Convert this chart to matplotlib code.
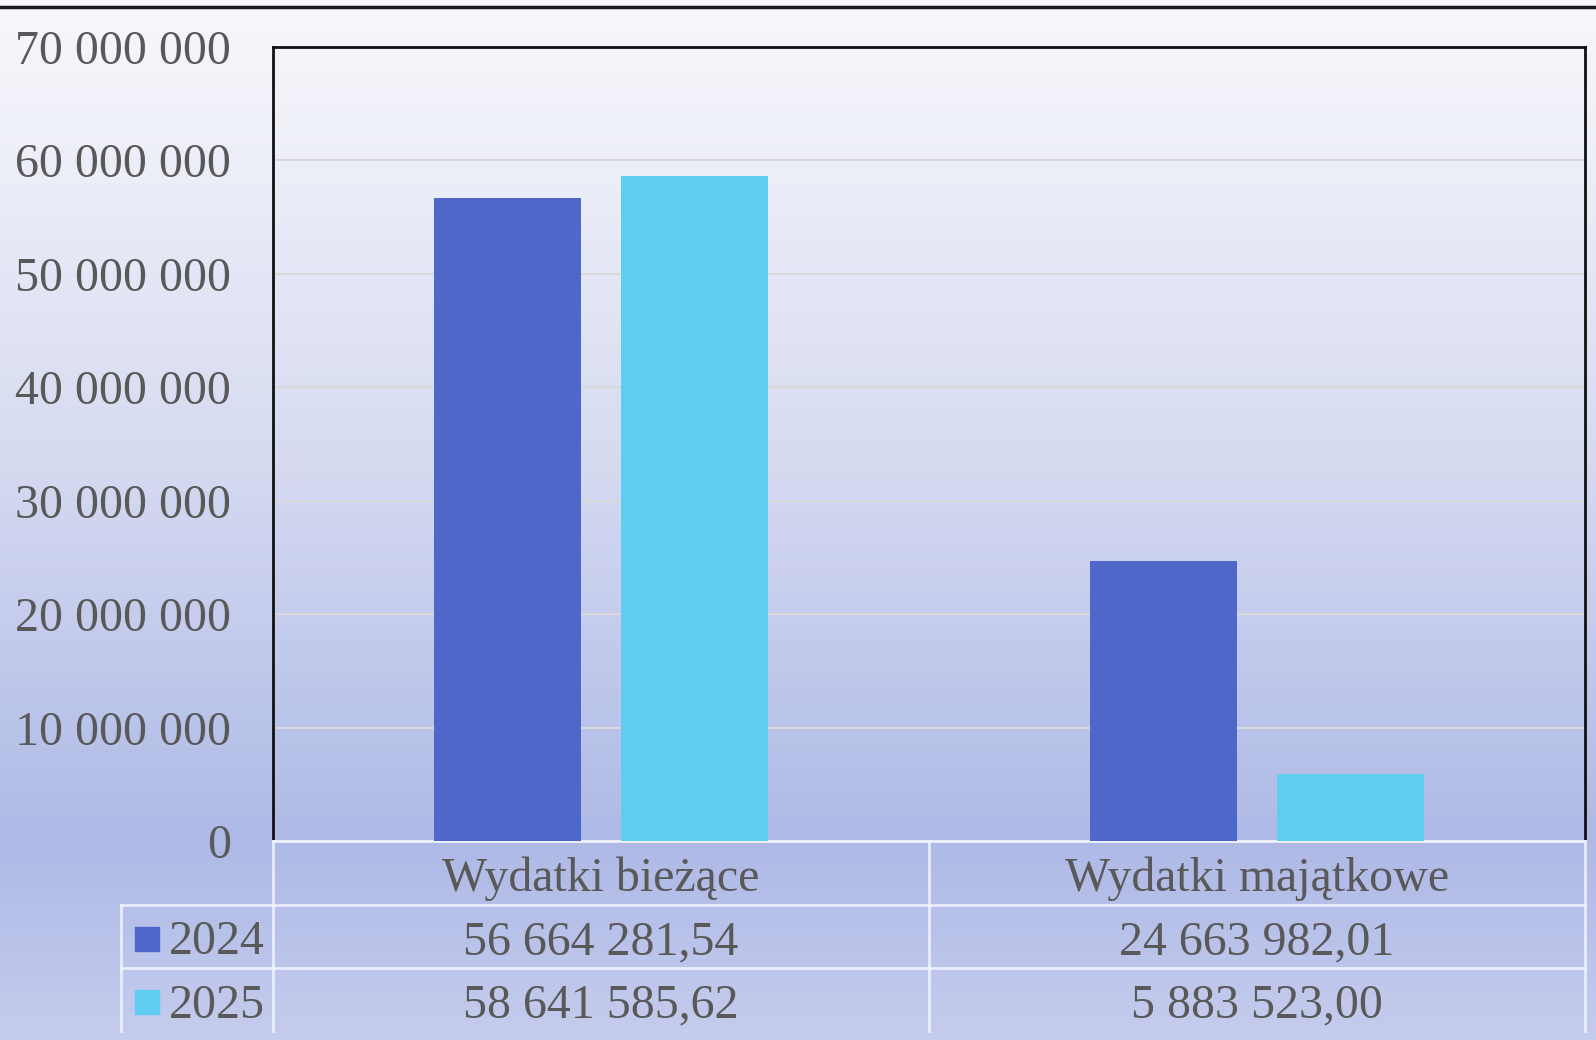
import numpy as np
import matplotlib
matplotlib.use('Agg')
import matplotlib.pyplot as plt
from matplotlib.colors import LinearSegmentedColormap
from matplotlib.lines import Line2D
from matplotlib.patches import Rectangle
import matplotlib.transforms as mtransforms

# dane
kategorie = ['Wydatki bieżące', 'Wydatki majątkowe']
lata = ['2024', '2025']
wartosci_2024 = [56664281.54, 24663982.01]
wartosci_2025 = [58641585.62, 5883523.00]
kolory = ['#4f67c8', '#5fcdf2']
yticks = [0, 10000000, 20000000, 30000000, 40000000, 50000000, 60000000, 70000000]

plt.rcParams['font.family'] = ['Liberation Serif', 'DejaVu Serif']
szary = '#595959'
W, H = 1596, 1040

def fmt_int(v):
    return '{:,.0f}'.format(v).replace(',', ' ')

def fmt_pl(v):
    return '{:,.2f}'.format(v).replace(',', ' ').replace('.', ',')

fig = plt.figure(figsize=(W / 100, H / 100), dpi=100)

# tlo - gradient
bg = fig.add_axes([0, 0, 1, 1], zorder=-10)
cmap = LinearSegmentedColormap.from_list('tlo', [
    (0.0, '#f7f8fc'), (0.1, '#f1f2f9'), (0.45, '#d5daf1'),
    (0.81, '#aeb9e6'), (1.0, '#c5cced')])
bg.imshow(np.linspace(0, 1, 256).reshape(-1, 1), aspect='auto', cmap=cmap,
          extent=[0, 1, 0, 1], origin='upper')
bg.set_axis_off()

L, R, T, B = 273, 1585, 47, 841
ax = fig.add_axes([L / W, 1 - B / H, (R - L) / W, (B - T) / H])
ax.patch.set_alpha(0)

x = np.arange(len(kategorie))
szer = 0.224
off = 0.142
ax.bar(x - off, wartosci_2024, szer, color=kolory[0], zorder=3)
ax.bar(x + off, wartosci_2025, szer, color=kolory[1], zorder=3)

ax.set_xlim(-0.5, len(kategorie) - 0.5)
ax.set_ylim(0, 70000000)
ax.set_yticks(yticks)
ax.set_yticklabels([fmt_int(v) for v in yticks], fontsize=34.5, color=szary)
ax.tick_params(axis='y', length=0, pad=30)
ax.set_xticks([])
ax.grid(axis='y', color='#d9d9d9', lw=1.5, zorder=0)
for s in ['left', 'top', 'right']:
    ax.spines[s].set_color('#111111')
    ax.spines[s].set_linewidth(2)
ax.spines['bottom'].set_color('#eef0fa')
ax.spines['bottom'].set_linewidth(2)

# tabela danych pod wykresem
tr = mtransforms.blended_transform_factory(ax.transData, fig.transFigure)
wiersze = [841, 905, 968, 1031]
dy = 6  # przesuniecie tekstu w dol
def fy(py):
    return 1 - py / H

linia = dict(color='#f2f4fc', lw=2, alpha=0.85)
for py in wiersze[1:3]:
    fig.add_artist(Line2D([121 / W, R / W], [fy(py)] * 2, **linia))
fig.add_artist(Line2D([L / W, L / W], [fy(841), fy(1031)], **linia))
fig.add_artist(Line2D([121 / W, 121 / W], [fy(905), fy(1031)], **linia))
xf = ax.transData.transform((0.5, 0))[0] / W
fig.add_artist(Line2D([xf, xf], [fy(841), fy(1031)], **linia))
fig.add_artist(Line2D([R / W, R / W], [fy(841), fy(1031)], **linia))

for i, k in enumerate(kategorie):
    fig.text(x[i], fy((wiersze[0] + wiersze[1]) / 2 + dy), k, transform=tr,
             ha='center', va='center', fontsize=34.5, color=szary)
    for j, seria in enumerate([wartosci_2024, wartosci_2025]):
        fig.text(x[i], fy((wiersze[j + 1] + wiersze[j + 2]) / 2 + dy), fmt_pl(seria[i]),
                 transform=tr, ha='center', va='center', fontsize=34.5, color=szary)

for j, rok in enumerate(lata):
    yc = (wiersze[j + 1] + wiersze[j + 2]) / 2
    fig.add_artist(Rectangle((135 / W, fy(yc + 14)), 24 / W, 24 / H,
                             transform=fig.transFigure, color=kolory[j]))
    fig.text(169 / W, fy(yc + dy), rok, ha='left', va='center', fontsize=34.5, color=szary)

# linia na gorze
fig.add_artist(Line2D([0, 1], [fy(7), fy(7)], color='#1a1a1a', lw=2.5))

fig.savefig('out.png', dpi=100)
